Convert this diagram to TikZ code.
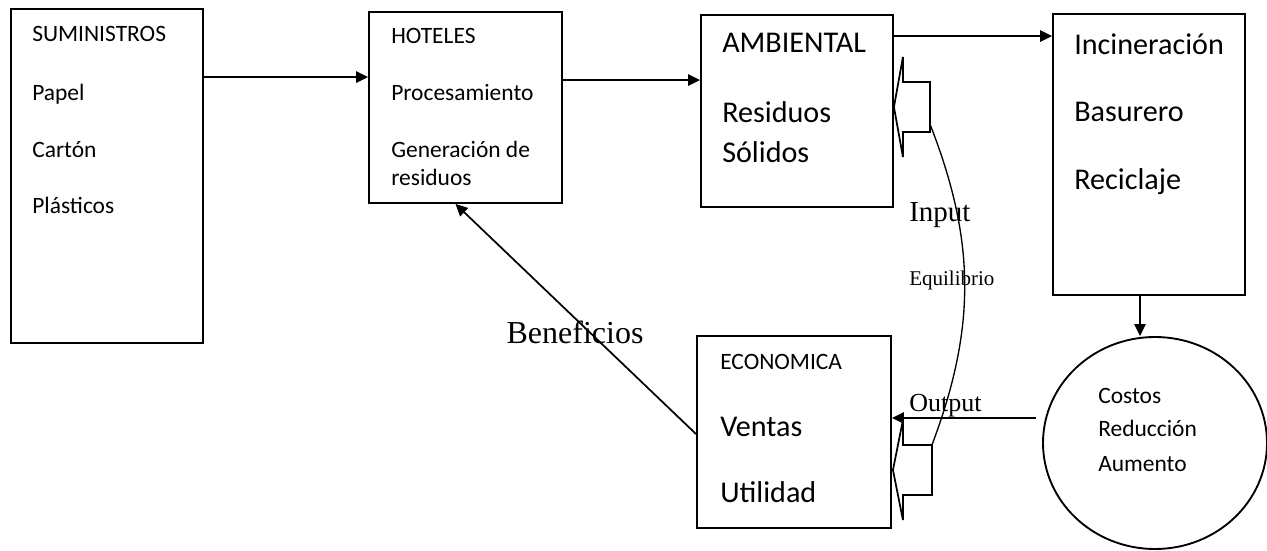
\documentclass[tikz,border=0pt]{standalone}
\usepackage{fontspec}
\setmainfont{Carlito}
\newfontfamily\tnr{Liberation Serif}
\usetikzlibrary{arrows.meta,fit,shapes.geometric,calc}
\tikzset{
    box/.style={draw, line width=1.4pt, inner sep=0pt},
    arr/.style={line width=1.3pt, -{Triangle[length=9pt,width=8.5pt]}},
    txt/.style={anchor=mid west, inner sep=0pt},
    fsmall/.style={font=\fontsize{17.6}{21}\selectfont},
    fbig/.style={font=\fontsize{22.6}{27}\selectfont},
    fcir/.style={font=\fontsize{17.6}{21}\selectfont}
}
\begin{document}
\begin{tikzpicture}[x=0.75pt,y=-0.75pt]
\useasboundingbox (0,0) rectangle (1267,550);
%boxes
\node[box, fit={(11,9) (203,343)}] (sum) {};
\node[box, fit={(369,12) (562,203)}] (hot) {};
\node[box, fit={(701,15) (893,207)}] (amb) {};
\node[box, fit={(1053,14) (1245,295)}] (inc) {};
\node[box, fit={(697,336) (891,528)}] (eco) {};
\node[box, ellipse, minimum width=168pt, minimum height=159pt] (cir) at (1155,443) {};

%box texts
\foreach \n/\t/\y in {a/SUMINISTROS/38, b/Papel/97, c/Cartón/154, d/Plásticos/210}{
    \node[txt, fsmall] (sum\n) at (32,\y) {\t};
}
\foreach \n/\t/\y in {a/HOTELES/40, b/Procesamiento/97, c/Generación de/154, d/residuos/182}{
    \node[txt, fsmall] (hot\n) at (391,\y) {\t};
}
\foreach \n/\t/\y in {a/AMBIENTAL/49, b/Residuos/119, c/Sólidos/159}{
    \node[txt, fbig] (amb\n) at (722,\y) {\t};
}
\foreach \n/\t/\y in {a/Incineración/51, b/Basurero/118, c/Reciclaje/186}{
    \node[txt, fbig] (inc\n) at (1074,\y) {\t};
}
\node[txt, fsmall] (ecoa) at (720,366) {ECONOMICA};
\foreach \n/\t/\y in {b/Ventas/433, c/Utilidad/499}{
    \node[txt, fbig] (eco\n) at (720,\y) {\t};
}
\foreach \n/\t/\y in {a/Costos/400, b/Reducción/433, c/Aumento/468}{
    \node[txt, fcir] (cir\n) at (1098,\y) {\t};
}

%arrows
\draw[arr] (sum.north east) ++(0,69) coordinate (p1) -- (p1 -| hot.west);
\draw[arr] (hot.north east) ++(0,69) coordinate (p2) -- (p2 -| amb.west);
\draw[arr] (amb.north east) ++(0,22) coordinate (p3) -- (p3 -| inc.west);
\draw[arr] (inc.south) ++(-9,0) coordinate (p4) -- (p4 |- cir.north);
\draw[arr] (cir.west) ++(-6,-25) coordinate (p5) -- (p5 -| eco.east);
\draw[arr] (eco.north west) ++(0,99) coordinate (p6) -- ($(hot.south)+(-10,0)$);

%block arrows and loop
\draw[line width=1.3pt] (amb.east) ++(0,-4) -- ++(9,-50) -- ++(0,25) -- ++(27,0)
    -- ++(0,50) coordinate (q1) -- ++(-27,0) -- ++(0,25) -- cycle;
\draw[line width=1.3pt] (eco.east) ++(1,38) -- ++(10,-50) -- ++(0,25) -- ++(29,0) coordinate (q2)
    -- ++(0,50) -- ++(-29,0) -- ++(0,25) -- cycle;
\draw[line width=1pt] ($(q1)+(0,-8)$) to[bend left=21] (q2);

%labels
\node[txt, font=\tnr\fontsize{21.75}{26}\selectfont] (inp) at (909,218) {Input};
\node[txt, font=\tnr\fontsize{15.75}{19}\selectfont] (equ) at (909,282) {Equilibrio};
\node[txt, font=\tnr\fontsize{19.5}{23}\selectfont] (outp) at (909,408) {Output};
\node[font=\tnr\fontsize{24}{28}\selectfont, inner sep=0pt] (ben) at (575,332) {Beneficios};
\end{tikzpicture}
\end{document}
